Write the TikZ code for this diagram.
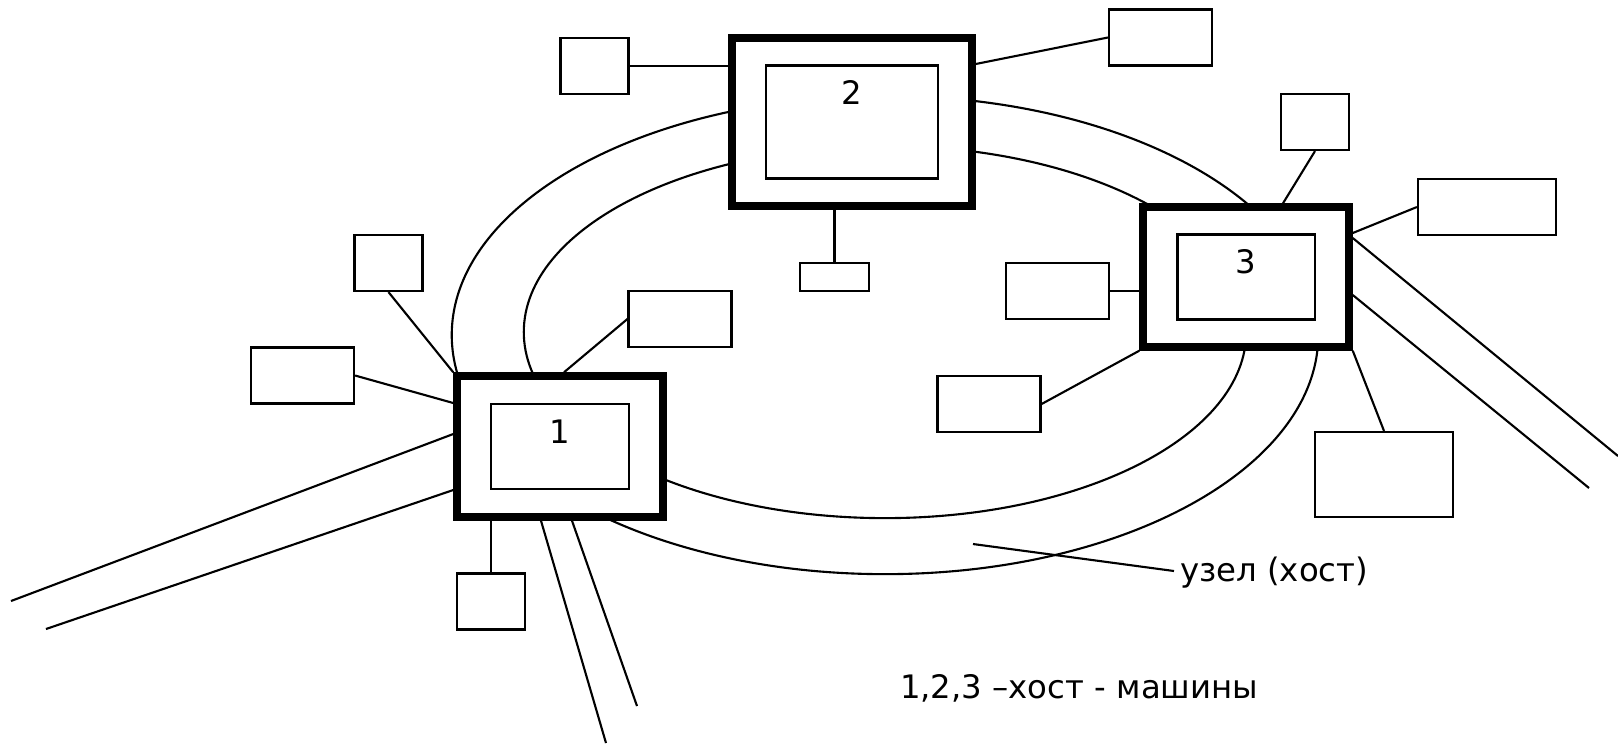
\documentclass[tikz,border=0pt]{standalone}
\usepackage{fontspec}
\setmainfont{DejaVu Sans}

\begin{document}
\begin{tikzpicture}[x=0.01cm, y=-0.01cm,
        font=\fontsize{9.2}{11}\selectfont,
        host/.style={draw, line width=2.1pt, fill=white, inner sep=0pt},
        box/.style={draw, line width=0.6pt, fill=white, inner sep=0pt},
        sq/.style={box, minimum width=0.68cm, minimum height=0.56cm},
        wd/.style={box, minimum width=1.03cm, minimum height=0.56cm},
        lg/.style={box, minimum width=1.38cm, minimum height=0.56cm}]
    \useasboundingbox (0,0) rectangle (1618,744);
    \begin{scope}[line width=0.6pt]
        % ring
        \draw (885,335) ellipse [x radius=4.33cm, y radius=2.39cm];
        \draw (885,332) ellipse [x radius=3.61cm, y radius=1.86cm];

        % hosts
        \node[host, minimum width=2.06cm, minimum height=1.41cm] (h1) at (560,446.5) {};
        \node[box, minimum width=1.38cm, minimum height=0.85cm] (in1) at (h1) {};
        \node (n1) at ([yshift=-0.29cm]in1.north) {1};

        \node[host, minimum width=2.40cm, minimum height=1.68cm] (h2) at (852,122) {};
        \node[box, minimum width=1.72cm, minimum height=1.13cm] (in2) at (h2) {};
        \node (n2) at ([yshift=-0.28cm]in2.north) {2};

        \node[host, minimum width=2.06cm, minimum height=1.40cm] (h3) at (1246,277) {};
        \node[box, minimum width=1.37cm, minimum height=0.85cm] (in3) at (h3) {};
        \node (n3) at ([yshift=-0.28cm]in3.north) {3};

        % terminals
        \node[sq] (a1) at (388.5,263) {};
        \node[wd] (b1) at (302.5,375.5) {};
        \node[wd] (c1) at (680,319) {};
        \node[sq] (d1) at (491,601.5) {};

        \node[sq] (a2) at (594.5,66) {};
        \node[wd] (b2) at (1160.5,37.5) {};
        \node[box, minimum width=0.69cm, minimum height=0.28cm] (c2) at (834.5,277) {};

        \node[sq] (a3) at (1315,122) {};
        \node[lg] (b3) at (1487,207) {};
        \node[wd] (c3) at (1057.5,291) {};
        \node[wd] (d3) at (989,404) {};
        \node[box, minimum width=1.38cm, minimum height=0.85cm] (e3) at (1384,474.5) {};

        \draw (a1.south) -- (h1.north west);
        \draw (b1.east) -- (h1.west |- 0,403);
        \draw (c1.west) -- (564,0 |- h1.north);
        \draw (d1) -- (d1 |- h1.south);

        \draw (a2) -- (a2 -| h2.west);
        \draw (h2.east |- 0,64) -- (b2.west);
        \draw (c2) -- (c2 |- h2.south);

        \draw (a3.south) -- (1283,0 |- h3.north);
        \draw (b3.west) -- (h3.east |- 0,233);
        \draw (c3) -- (c3 -| h3.west);
        \draw (d3.east) -- (h3.south west);
        \draw (e3.north) -- (h3.south east);

        % lines going out of the picture
        \coordinate (o1) at (11,601);
        \coordinate (o2) at (46,629);
        \coordinate (o3) at (606,743);
        \coordinate (o4) at (637,706);
        \coordinate (o5) at (1618,456);
        \coordinate (o6) at (1589,488);
        \draw (h1.west |- 0,434) -- (o1);
        \draw (h1.west |- 0,490) -- (o2);
        \draw (541,0 |- h1.south) -- (o3);
        \draw (572,0 |- h1.south) -- (o4);
        \draw (h3.east |- 0,238) -- (o5);
        \draw (h3.east |- 0,295) -- (o6);

        % captions
        \coordinate (p0) at (973,544);
        \node[anchor=west, inner sep=0pt] (node) at (1179,573) {узел (хост)};
        \draw (p0) -- ([xshift=-0.05cm,yshift=0.02cm]node.west);
        \node[anchor=west, inner sep=0pt] (legend) at (899,688) {1,2,3 –хост - машины};
    \end{scope}
\end{tikzpicture}
\end{document}
